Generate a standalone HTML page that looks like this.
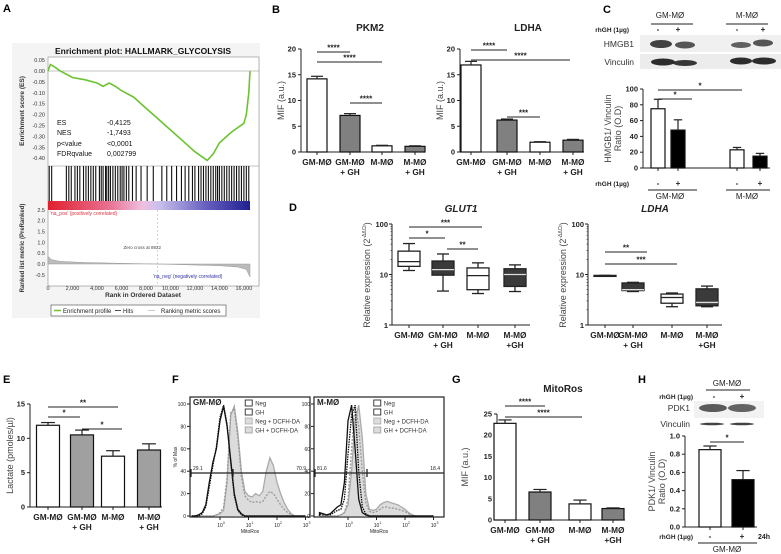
<!DOCTYPE html>
<html><head><meta charset="utf-8"><style>
html,body{margin:0;padding:0;background:#fff;width:781px;height:554px;overflow:hidden}
svg{display:block;font-family:"Liberation Sans",Arial,sans-serif}
</style></head><body>
<svg id="fig" width="781" height="554" viewBox="0 0 781 554"></svg>
<script>
// ---------- DATA ----------
const esRanks=[0,200,500,1000,2000,3000,4000,4500,5000,5500,6000,7000,8000,9000,10000,11000,12000,13000,13500,14000,15000,16000,16200,16400,16500];
const esVals=[0,0.03,0.02,0.0,-0.03,-0.04,-0.055,-0.07,-0.055,-0.07,-0.09,-0.12,-0.17,-0.22,-0.27,-0.32,-0.37,-0.41,-0.38,-0.33,-0.28,-0.24,-0.2,-0.1,0.0];
const hitRanks=[100,300,1500,1700,1900,2200,2400,2600,2900,3100,3300,3500,3700,3900,4200,4350,4500,4700,4800,4950,5100,5300,5500,5700,5900,6050,6200,6400,6600,6900,7200,7600,8100,8600,9300,9700,10100,10500,10900,11200,11500,11800,12000,12300,12500,12700,12900,13100,13300,13500,13700,13850,14000,14200,14400,14600,14800,15000,15200,15400,15600,15800,16000,16200,16400];
const esTicks=[0.05,0,-0.05,-0.1,-0.15,-0.2,-0.25,-0.3,-0.35,-0.4];
const rankTicks=[0,2000,4000,6000,8000,10000,12000,14000,16000];
const metricTicks=[2.5,2.0,1.5,1.0,0.5,0.0,-0.5];
const metricRanks=[0,300,1000,3000,6000,8922,11000,14000,15500,16200,16500];
const metricVals=[0.35,0.2,0.12,0.07,0.03,0,-0.03,-0.08,-0.14,-0.25,-0.6];

const catLabels=[["GM-MØ"],["GM-MØ","+ GH"],["M-MØ"],["M-MØ","+ GH"]];
const catLabels2=[["GM-MØ"],["GM-MØ","+ GH"],["M-MØ"],["M-MØ","+GH"]];
const pkm2Vals=[14.2,7.1,1.2,1.1], pkm2Err=[0.5,0.35,0.1,0.1];
const ldhaVals=[16.9,6.2,1.9,2.3], ldhaErr=[0.7,0.2,0.1,0.15];
const mifTicks=[0,5,10,15,20];
const hmgbVals=[75,48,23,15], hmgbErr=[12,13,3,3.5];
const hmgbTicks=[0,20,40,60,80,100];
const lacVals=[11.9,10.5,7.4,8.3], lacErr=[0.4,0.7,0.8,0.9];
const lacTicks=[0,5,10,15];
const mitoVals=[22.8,6.6,3.8,2.7], mitoErr=[0.8,0.6,0.9,0.15];
const mitoTicks=[0,5,10,15,20,25];
const pdkVals=[0.85,0.52], pdkErr=[0.04,0.1];
const pdkTicks=[0,0.2,0.4,0.6,0.8,1.0];
// box stats: [min,q1,median,q3,max]
const glutBox=[[12,14.5,18,29,41],[4.7,9.7,12.5,18.5,25.5],[4.2,5,9.5,13.5,17],[4.6,5.8,10,13,15.5]];
const ldhaBox=[[9.2,9.2,9.4,9.6,9.6],[4.6,4.8,5,6.8,7],[2.3,2.7,3.5,4.1,4.3],[2.3,2.4,2.8,5.2,5.9]];
const logTicks=[1,10,100];
// flow histograms, log10 grid -1..3 step 0.125
const flowLogs=[-1,-0.875,-0.75,-0.625,-0.5,-0.375,-0.25,-0.125,0,0.125,0.25,0.375,0.5,0.625,0.75,0.875,1,1.125,1.25,1.375,1.5,1.625,1.75,1.875,2,2.125,2.25,2.375,2.5,2.625,2.75,2.875,3];
const gmNeg=[0,0,1,3,10,30,48,60,85,98,80,50,20,6,2,0,0,0,0,0,0,0,0,0,0,0,0,0,0,0,0,0,0];
const gmGH=[0,0,0,2,8,26,45,62,88,99,82,48,18,5,1,0,0,0,0,0,0,0,0,0,0,0,0,0,0,0,0,0,0];
const gmNegD=[0,0,0,0,0,0,0,1,2,5,30,90,98,75,40,22,18,17,20,18,22,40,52,45,30,20,12,6,2,0,0,0,0];
const gmGHD=[0,0,0,0,0,0,0,1,3,8,35,92,96,70,35,18,14,12,13,12,13,18,22,20,15,10,6,3,1,0,0,0,0];
const mNeg=[3,2,1,2,5,8,10,30,85,99,60,15,3,1,0,0,0,0,0,0,0,0,0,0,0,0,0,0,0,0,0,0,0];
const mGH=[2,1,1,1,3,5,6,15,55,90,99,40,8,2,0,0,0,0,0,0,0,0,0,0,0,0,0,0,0,0,0,0,0];
const mNegD=[0,0,0,0,0,0,1,3,10,40,85,99,70,20,6,5,6,10,12,13,12,11,10,8,6,3,1,0,0,0,0,0,0];
const mGHD=[0,0,0,0,0,0,1,3,15,60,99,80,40,12,4,3,4,6,8,8,7,7,6,5,4,2,1,0,0,0,0,0,0];
const flowTicksY=[0,20,40,60,80,100];
const flowTicksX=[0,1,2,3];

// ---------- HELPERS ----------
const NS='http://www.w3.org/2000/svg';
const svg=document.getElementById('fig');
function mk(tag,attrs,parent){const e=document.createElementNS(NS,tag);for(const k in attrs)e.setAttribute(k,attrs[k]);(parent||svg).appendChild(e);return e;}
function nm(e,n){


return e;}
function grp(n){return nm(mk('g',{}),n);}
function txt(p,x,y,s,o){o=o||{};const e=mk('text',{x:x,y:y,'font-size':o.fs||8,'text-anchor':o.a||'middle',fill:o.c||'#222','font-weight':o.w||'normal'},p);if(o.it)e.setAttribute('font-style','italic');if(o.rot)e.setAttribute('transform','rotate('+o.rot+' '+x+' '+y+')');e.textContent=s;return e;}
function line(p,x1,y1,x2,y2,o){o=o||{};const e=mk('line',{x1:x1,y1:y1,x2:x2,y2:y2,stroke:o.c||'#222','stroke-width':o.w||1},p);if(o.d)e.setAttribute('stroke-dasharray',o.d);return e;}
function sig(p,x1,x2,y,s,n){const g=mk('g',{},p);nm(g,n);line(g,x1,y,x2,y);txt(g,(x1+x2)/2,y-1.5,s,{fs:8,w:'bold'});}

function barChart(name,c){
  const g=grp(name);
  const ys=v=>c.y0-v/c.max*(c.y0-c.yTop);
  const ax=mk('g',{},g);nm(ax,'y-axis');
  line(ax,c.ax,c.yTop,c.ax,c.y0);
  c.ticks.forEach(t=>{line(ax,c.ax-3,ys(t),c.ax,ys(t));txt(ax,c.ax-5,ys(t)+2.5,c.tickFmt?c.tickFmt(t):String(t),{fs:7.5,a:'end',w:'bold'});});
  const xa=mk('g',{},g);nm(xa,'x-axis');
  line(xa,c.ax,c.y0,c.xEnd,c.y0);
  c.vals.forEach((v,i)=>{
    const cx=c.centers[i];
    line(xa,cx,c.y0,cx,c.y0+3);
    const r=mk('rect',{x:cx-c.bw/2,y:ys(v),width:c.bw,height:c.y0-ys(v),fill:c.fills[i],stroke:'#111','stroke-width':1.2},g);
    nm(r,'bar-'+(i+1));
    const eb=mk('g',{},g);nm(eb,'error-bar-'+(i+1));
    const top=ys(v+c.errs[i]);
    line(eb,cx,ys(v),cx,top,{w:1.2});line(eb,cx-c.bw*0.3,top,cx+c.bw*0.3,top,{w:1.2});
    if(c.labels){const L=c.labels[i];L.forEach((s,j)=>txt(g,cx,c.y0+13+j*10,s,{fs:8.3,w:'bold'}));}
  });
  if(c.ylab){const yl=txt(g,c.ylx,(c.yTop+c.y0)/2,c.ylab[0],{fs:9,rot:-90,c:'#444'});nm(yl,'y-axis-title');if(c.ylab[1]){txt(g,c.ylx+10,(c.yTop+c.y0)/2,c.ylab[1],{fs:9,rot:-90,c:'#444'});}}
  if(c.title){const t=txt(g,c.tx,c.ty,c.title,{fs:10,w:'bold'});nm(t,'chart-title');}
  return g;
}
function boxChart(name,c){
  const g=grp(name);
  const ys=v=>c.y1-Math.log10(v)*c.dec;
  line(g,c.ax,ys(100),c.ax,c.y1);line(g,c.ax,c.y1,c.xEnd,c.y1);
  logTicks.forEach(t=>{line(g,c.ax-3,ys(t),c.ax,ys(t));txt(g,c.ax-4,ys(t)+3,String(t),{fs:7.5,a:'end',w:'bold'});});
  for(let k=2;k<10;k++){line(g,c.ax-1.5,ys(k),c.ax,ys(k),{w:0.6});line(g,c.ax-1.5,ys(k*10),c.ax,ys(k*10),{w:0.6});}
  c.data.forEach((b,i)=>{
    const cx=c.centers[i],bw=22;const bg=mk('g',{},g);nm(bg,'box-'+(i+1));
    line(bg,cx,c.y1,cx,c.y1+3);
    line(bg,cx,ys(b[0]),cx,ys(b[1]),{w:1.3});line(bg,cx,ys(b[3]),cx,ys(b[4]),{w:1.3});
    line(bg,cx-6,ys(b[0]),cx+6,ys(b[0]),{w:1.3});line(bg,cx-6,ys(b[4]),cx+6,ys(b[4]),{w:1.3});
    const dark=i%2==1;
    mk('rect',{x:cx-bw/2,y:ys(b[3]),width:bw,height:Math.max(ys(b[1])-ys(b[3]),1),fill:dark?'#3a3a3a':'#fff',stroke:'#222','stroke-width':1.3},bg);
    line(bg,cx-bw/2,ys(b[2]),cx+bw/2,ys(b[2]),{w:1.3,c:dark?'#ddd':'#222'});
    catLabels2[i].forEach((s,j)=>txt(g,cx,c.y1+13+j*10,s,{fs:8.3,w:'bold'}));
  });
  const t=txt(g,(c.ax+c.xEnd)/2,c.y1-113,c.title,{fs:10,w:'bold',it:1});nm(t,'chart-title');
  const x=c.ax-22,y=c.y1-50;
  const yl=mk('text',{x:x,y:y,'font-size':9,'text-anchor':'middle',fill:'#444',transform:'rotate(-90 '+x+' '+y+')'},g);
  nm(yl,'y-axis-title');
  const t1=mk('tspan',{},yl);t1.textContent='Relative expression (2';
  const t2=mk('tspan',{dy:-4,'font-size':5},yl);t2.textContent='-ΔΔCt';
  const t3=mk('tspan',{dy:4},yl);t3.textContent=')';
}
function flow(name,c){
  const g=grp(name);
  const xs=l=>c.x10+l*28.5, ys=p=>516-p/100*112;
  const clip='clip'+name;const cp=mk('clipPath',{id:clip},g);mk('rect',{x:c.bx,y:397,width:c.bw,height:120},cp);
  const inner=mk('g',{'clip-path':'url(#'+clip+')'},g);
  function path(arr){let d='M'+xs(flowLogs[0])+','+ys(0);arr.forEach((p,i)=>d+=' L'+xs(flowLogs[i]).toFixed(1)+','+ys(p).toFixed(1));d+=' L'+xs(3)+','+ys(0);return d;}
  const s=[[c.negD,'#dcdcdc','#aaa',null,'neg-dcfh'],[c.ghD,'none','#999','2,1.5','gh-dcfh'],[c.neg,'none','#111',null,'neg'],[c.gh,'none','#111','1.5,1','gh']];
  s.forEach(q=>{const p=mk('path',{d:path(q[0]),fill:q[1],stroke:q[2],'stroke-width':1.3},inner);if(q[3])p.setAttribute('stroke-dasharray',q[3]);nm(p,'histogram-'+q[4]);});
  mk('rect',{x:c.bx,y:397,width:c.bw,height:120,fill:'none',stroke:'#222','stroke-width':1.2},g);
  flowTicksY.forEach(t=>{line(g,c.bx-3,ys(t),c.bx,ys(t));txt(g,c.bx-4,ys(t)+2,String(t),{fs:5,a:'end'});});
  flowTicksX.forEach(t=>{line(g,xs(t),517,xs(t),520);txt(g,xs(t),527,'10',{fs:5});txt(g,xs(t)+4,524,String(t),{fs:3.5});});
  txt(g,(c.bx+c.bx+c.bw)/2,533,'MitoRos',{fs:5});
  if(c.ylab){txt(g,c.bx-13,457,'% of Max',{fs:5,rot:-90});}
  const gate=mk('g',{},g);nm(gate,'gate-line');
  line(gate,c.bx,473,c.bx+c.bw,473,{w:1.3});line(gate,c.gx,469,c.gx,477,{w:1.3});line(gate,c.bx+1,469,c.bx+1,477,{w:1.3});
  txt(g,c.bx+3,470,c.l1,{fs:5,a:'start'});txt(g,c.bx+c.bw-4,470,c.l2,{fs:5,a:'end'});
  txt(g,c.bx+3,405,c.label,{fs:8,a:'start',w:'bold'});
  const lg=mk('g',{},g);nm(lg,'legend');
  const lx=c.bx+c.bw*0.46;const items=[['Neg','#fff','#111'],['GH','#fff','#111'],['Neg + DCFH-DA','#ddd','#aaa'],['GH + DCFH-DA','#ddd','#999']];
  items.forEach((it,i)=>{const y=400+i*9;mk('rect',{x:lx,y:y,width:7,height:6,fill:it[1],stroke:it[2],'stroke-width':0.8},lg);txt(lg,lx+10,y+5.5,it[0],{fs:6,a:'start',c:'#333'});});
}

// ---------- PANEL LABELS ----------
[['A',3,12],['B',272,13],['C',603,13],['D',289,211],['E',3,383],['F',172,383],['G',452,383],['H',638,383]].forEach(p=>{const t=txt(svg,p[1],p[2],p[0],{fs:11,w:'bold',a:'start',c:'#000'});nm(t,'panel-label-'+p[0].toLowerCase());});

// ---------- PANEL A ----------
(function(){
  const g=grp('panel-a-gsea');
  mk('rect',{x:12,y:43,width:248,height:275,fill:'#f4f4f4'},g);
  mk('rect',{x:48,y:57,width:211,height:229,fill:'#fff',stroke:'#888','stroke-width':0.6},g);
  const t=txt(g,143,54,'Enrichment plot: HALLMARK_GLYCOLYSIS',{fs:8.5,w:'bold',c:'#111'});nm(t,'chart-title');
  const xs=r=>48+r/16500*202;
  const ye=v=>71-v/0.05*10.9;
  line(g,48,ye(0),259,ye(0),{c:'#888',w:0.6});
  esTicks.forEach(v=>txt(g,45,ye(v)+2,v.toFixed(2),{fs:5.5,a:'end',c:'#333'}));
  const ytl=txt(g,24,111,'Enrichment score (ES)',{fs:6.5,rot:-90,w:'bold',c:'#333'});nm(ytl,'y-axis-title');
  let d='';esRanks.forEach((r,i)=>d+=(i?' L':'M')+xs(r).toFixed(1)+','+ye(esVals[i]).toFixed(1));
  const es=mk('path',{d:d,fill:'none',stroke:'#6cc230','stroke-width':1.6},g);nm(es,'enrichment-line');
  [['ES','-0,4125',125],['NES','-1,7493',135],['p<value','<0,0001',146],['FDRqvalue','0,002799',156]].forEach(s=>{txt(g,57,s[2],s[0],{fs:7,a:'start',c:'#111'});txt(g,107,s[2],s[1],{fs:7,a:'start',c:'#111'});});
  line(g,48,166,259,166,{c:'#888',w:0.5});
  const hg=mk('g',{},g);nm(hg,'hits');
  hitRanks.forEach(r=>line(hg,xs(r),166,xs(r),201,{w:1.1,c:'#111'}));
  const gr=mk('linearGradient',{id:'rb',x1:0,x2:1,y1:0,y2:0},g);
  [['0','#e0202e'],['0.3','#e87090'],['0.47','#f0c0e0'],['0.55','#c8c0ec'],['0.78','#6860c0'],['1','#202090']].forEach(s=>mk('stop',{offset:s[0],'stop-color':s[1]},gr));
  const cb=mk('rect',{x:48,y:201,width:202,height:9,fill:'url(#rb)'},g);nm(cb,'rank-color-bar');
  const ym=v=>264-v*21.7;
  let dm='M48,'+ym(0);metricRanks.forEach((r,i)=>dm+=' L'+xs(r).toFixed(1)+','+ym(metricVals[i]).toFixed(1));dm+=' L'+xs(16500)+','+ym(0)+'Z';
  const mp=mk('path',{d:dm,fill:'#bbb',stroke:'#999','stroke-width':0.5},g);nm(mp,'ranking-metric-area');
  line(g,xs(8922),210,xs(8922),285,{c:'#aaa',w:0.5,d:'2,2'});
  txt(g,xs(8922)-15,249,'Zero cross at 8922',{fs:4.5,c:'#444'});
  txt(g,50,215,"'na_pos' (positively correlated)",{fs:5,a:'start',c:'#e03040'});
  txt(g,153,278,"'na_neg' (negatively correlated)",{fs:5,a:'start',c:'#3030a0'});
  metricTicks.forEach(v=>txt(g,45,ym(v)+2,v.toFixed(1),{fs:5.5,a:'end',c:'#333'}));
  const yt2=txt(g,24,248,'Ranked list metric (PreRanked)',{fs:6,rot:-90,w:'bold',c:'#333'});nm(yt2,'y-axis-title-2');
  rankTicks.forEach(r=>txt(g,xs(r),290,r.toLocaleString('en-US'),{fs:5.5,c:'#333'}));
  const xt=txt(g,143,297,'Rank in Ordered Dataset',{fs:6.5,w:'bold',c:'#333'});nm(xt,'x-axis-title');
  const lg=mk('g',{},g);nm(lg,'legend');
  mk('rect',{x:51,y:305,width:175,height:11,fill:'#fff',stroke:'#444','stroke-width':0.6},lg);
  line(lg,54,310.5,61,310.5,{c:'#6cc230',w:1.5});txt(lg,63,313,'Enrichment profile',{fs:6,a:'start'});
  line(lg,115,310.5,121,310.5,{w:0.8});txt(lg,123,313,'Hits',{fs:6,a:'start'});
  line(lg,148,310.5,155,310.5,{c:'#bbb',w:0.8});txt(lg,161,313,'Ranking metric scores',{fs:6,a:'start'});
})();

// ---------- PANEL B ----------
barChart('panel-b-pkm2',{ax:301,xEnd:425,y0:152,yTop:49,max:20,ticks:mifTicks,centers:[317,350,382,415],vals:pkm2Vals,errs:pkm2Err,fills:['#fff','#808080','#fff','#808080'],bw:20,labels:catLabels,ylab:['MIF (a.u.)'],ylx:284,title:'PKM2',tx:370,ty:31});
const gB=svg.lastChild;
sig(gB,317,350,52,'****','sig-1');sig(gB,317,382,62,'****','sig-2');sig(gB,350,382,103,'****','sig-3');
barChart('panel-b-ldha',{ax:460,xEnd:584,y0:152,yTop:49,max:20,ticks:mifTicks,centers:[471,507,540,573],vals:ldhaVals,errs:ldhaErr,fills:['#fff','#808080','#fff','#808080'],bw:20,labels:catLabels,ylab:['MIF (a.u.)'],ylx:443,title:'LDHA',tx:528,ty:31});
const gB2=svg.lastChild;
sig(gB2,471,507,50,'****','sig-1');sig(gB2,471,570,60,'****','sig-2');sig(gB2,507,540,117,'***','sig-3');

// ---------- PANEL C ----------
(function(){
  const g=grp('panel-c-blot');
  txt(g,670,18,'GM-MØ',{fs:8});line(g,651,24,693,24);txt(g,747,18,'M-MØ',{fs:8});line(g,726,24,768,24);
  txt(g,629,32,'rhGH (1µg)',{fs:6.5,w:'bold',a:'end'});
  [[658,'-'],[678,'+'],[737,'-'],[763,'+']].forEach(s=>txt(g,s[0],32,s[1],{fs:8,w:'bold'}));
  mk('rect',{x:640,y:35,width:141,height:17,fill:'#f0f0f0'},g);mk('rect',{x:640,y:54,width:141,height:15,fill:'#ececec'},g);
  txt(g,634,47,'HMGB1',{fs:8.5,a:'end',c:'#333'});txt(g,634,65,'Vinculin',{fs:8.5,a:'end',c:'#333'});
  [[661,44,11,4,0.85],[685,45,10,3.5,0.75],[741,45,10,3,0.7],[763,43,10,3.5,0.75],[663,62,12,3.5,0.95],[685,63,12,3,0.9],[741,61,11,3.5,0.95],[764,61,12,3.5,0.95]].forEach((b,i)=>{const e=mk('ellipse',{cx:b[0],cy:b[1],rx:b[2],ry:b[3],fill:'#222','fill-opacity':b[4]},g);nm(e,'band-'+(i+1));});
})();
barChart('panel-c-chart',{ax:643,xEnd:770,y0:168,yTop:89,max:100,ticks:hmgbTicks,centers:[658,678,737,760],vals:hmgbVals,errs:hmgbErr,fills:['#fff','#000','#fff','#000'],bw:14,ylab:['HMGB1/ Vinculin','Ratio (O.D)'],ylx:611});
const gC=svg.lastChild;
sig(gC,658,692,99,'*','sig-1');sig(gC,658,742,90,'*','sig-2');
(function(){const g=grp('panel-c-x-labels');txt(g,629,186,'rhGH (1µg)',{fs:6.5,w:'bold',a:'end'});[[658,'-'],[678,'+'],[737,'-'],[760,'+']].forEach(s=>txt(g,s[0],186,s[1],{fs:8,w:'bold'}));line(g,648,190,697,190);line(g,726,190,770,190);txt(g,670,199,'GM-MØ',{fs:8});txt(g,747,199,'M-MØ',{fs:8});})();

// ---------- PANEL D ----------
boxChart('panel-d-glut1',{ax:392,xEnd:530,y1:325,dec:50.5,centers:[409,443,478,515],data:glutBox,title:'GLUT1'});
const gD=svg.lastChild;
sig(gD,409,482,227,'***','sig-1');sig(gD,409,445,238,'*','sig-2');sig(gD,447,478,249,'**','sig-3');
boxChart('panel-d-ldha',{ax:588,xEnd:722,y1:325,dec:50.5,centers:[605,633,672,707],data:ldhaBox,title:'LDHA'});
const gD2=svg.lastChild;
sig(gD2,605,647,252,'**','sig-1');sig(gD2,605,677,264,'***','sig-2');

// ---------- PANEL E ----------
barChart('panel-e-lactate',{ax:30,xEnd:162,y0:507,yTop:404,max:15,ticks:lacTicks,centers:[48,82,113,149],vals:lacVals,errs:lacErr,fills:['#fff','#a0a0a0','#fff','#a0a0a0'],bw:23,labels:catLabels,ylab:['Lactate (pmoles/µl)'],ylx:13});
const gE=svg.lastChild;
sig(gE,48,118,407,'**','sig-1');sig(gE,48,80,417,'*','sig-2');sig(gE,82,122,429,'*','sig-3');

// ---------- PANEL F ----------
flow('panel-f-gm',{bx:190,bw:120,x10:220,neg:gmNeg,gh:gmGH,negD:gmNegD,ghD:gmGHD,gx:233,l1:'29.1',l2:'70.9',label:'GM-MØ',ylab:1});
flow('panel-f-m',{bx:314,bw:130,x10:348,neg:mNeg,gh:mGH,negD:mNegD,ghD:mGHD,gx:367,l1:'81.6',l2:'18.4',label:'M-MØ',ylab:0});

// ---------- PANEL G ----------
barChart('panel-g-mitoros',{ax:497,xEnd:625,y0:520,yTop:414,max:25,ticks:mitoTicks,centers:[505,540,580,613],vals:mitoVals,errs:mitoErr,fills:['#fff','#808080','#fff','#808080'],bw:22,labels:catLabels2,ylab:['MIF (a.u.)'],ylx:468,title:'MitoRos',tx:563,ty:392});
const gG=svg.lastChild;
sig(gG,505,545,406,'****','sig-1');sig(gG,505,582,417,'****','sig-2');

// ---------- PANEL H ----------
(function(){
  const g=grp('panel-h-blot');
  txt(g,727,386,'GM-MØ',{fs:8});line(g,706,390,750,390);
  txt(g,693,399,'rhGH (1µg)',{fs:6.5,w:'bold',a:'end'});txt(g,714,399,'-',{fs:8,w:'bold'});txt(g,742,399,'+',{fs:8,w:'bold'});
  txt(g,690,411,'PDK1',{fs:8.5,a:'end',c:'#333'});txt(g,690,427,'Vinculin',{fs:8.5,a:'end',c:'#333'});
  mk('rect',{x:694,y:401,width:70,height:17,fill:'#f2f2f2'},g);
  const b1=mk('ellipse',{cx:713,cy:408,rx:14,ry:4,fill:'#333','fill-opacity':0.8},g);nm(b1,'band-1');
  const b2=mk('ellipse',{cx:742,cy:408,rx:14,ry:4,fill:'#333','fill-opacity':0.75},g);nm(b2,'band-2');
  const b3=mk('ellipse',{cx:712,cy:424,rx:12,ry:1.3,fill:'#444'},g);nm(b3,'band-3');
  const b4=mk('ellipse',{cx:742,cy:424,rx:12,ry:1.3,fill:'#444'},g);nm(b4,'band-4');
})();
barChart('panel-h-chart',{ax:685,xEnd:757,y0:527,yTop:436,max:1.0,ticks:pdkTicks,centers:[710,743],vals:pdkVals,errs:pdkErr,fills:['#fff','#000'],bw:22,ylab:['PDK1/ Vinculin','Ratio (O.D)'],ylx:655,tickFmt:t=>t.toFixed(1)});
const gH=svg.lastChild;
sig(gH,710,744,442,'*','sig-1');
(function(){const g=grp('panel-h-x-labels');txt(g,693,539,'rhGH (1µg)',{fs:6.5,w:'bold',a:'end'});txt(g,710,539,'-',{fs:8,w:'bold'});txt(g,742,539,'+',{fs:8,w:'bold'});txt(g,764,539,'24h',{fs:7,w:'bold'});line(g,698,543,757,543);txt(g,727,552,'GM-MØ',{fs:8});})();
</script>
</body></html>
